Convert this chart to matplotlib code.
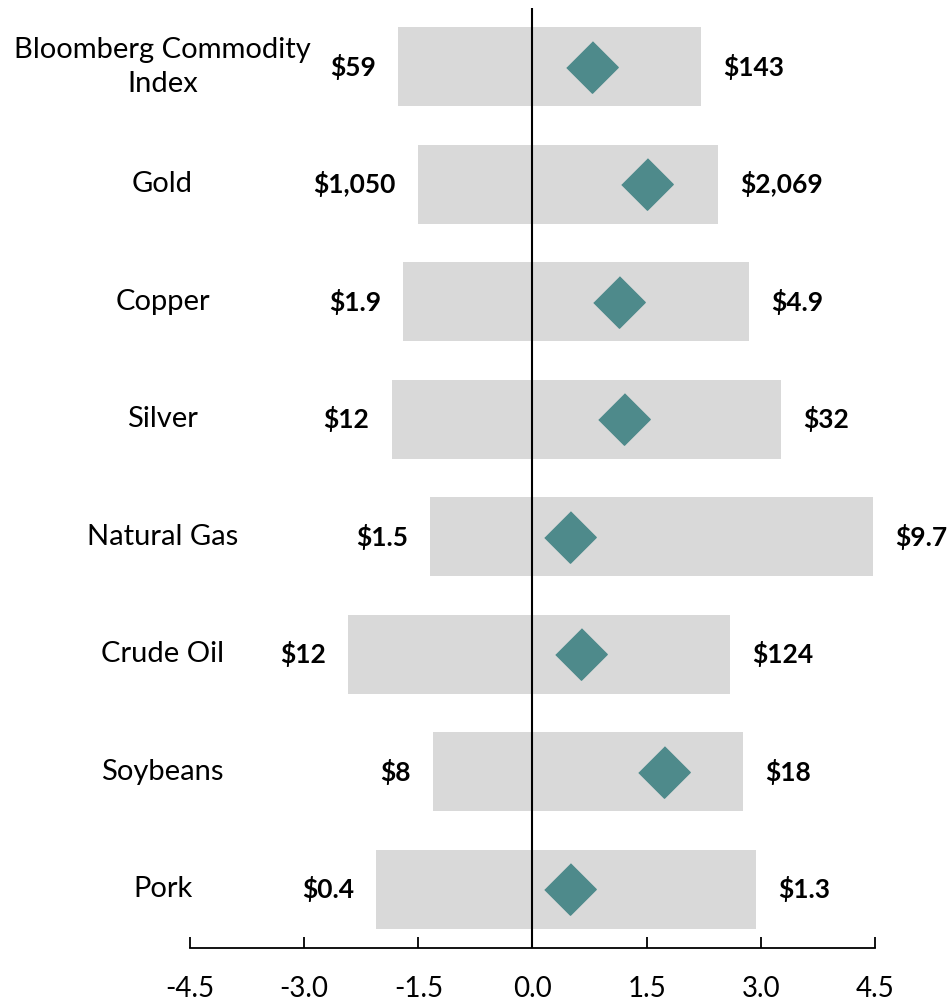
import matplotlib.pyplot as plt

# commodity ranges (z-score style axis)
categories = ["Bloomberg Commodity\nIndex", "Gold", "Copper", "Silver",
              "Natural Gas", "Crude Oil", "Soybeans", "Pork"]
low = [-1.77, -1.51, -1.70, -1.85, -1.34, -2.42, -1.31, -2.05]
high = [2.21, 2.44, 2.84, 3.27, 4.47, 2.59, 2.77, 2.94]
current = [0.78, 1.51, 1.14, 1.20, 0.49, 0.64, 1.73, 0.49]
low_labels = ["$59", "$1,050", "$1.9", "$12", "$1.5", "$12", "$8", "$0.4"]
high_labels = ["$143", "$2,069", "$4.9", "$32", "$9.7", "$124", "$18", "$1.3"]
xticks = [-4.5, -3.0, -1.5, 0.0, 1.5, 3.0, 4.5]

plt.rcParams['font.family'] = ['Lato', 'DejaVu Sans']

fig = plt.figure(figsize=(9.49, 10.05), dpi=100)
ax = fig.add_axes([0.2002, 0.0567, 0.7218, 0.9353])

y = list(range(len(categories)))
widths = [h - l for l, h in zip(low, high)]
ax.barh(y, widths, left=low, height=0.67, color="#D9D9D9", zorder=1)
ax.axvline(0, color="black", lw=1.5, zorder=2)

diamond = [(0, 1), (1, 0), (0, -1), (-1, 0)]
ax.plot(current, y, linestyle="none", marker=diamond, markersize=37,
        color="#4E8A8B", zorder=3)

for i in y:
    ax.annotate(low_labels[i], (low[i], i), xytext=(-16, 0), textcoords="offset points",
                ha="right", va="center", fontsize=19, fontweight="bold")
    ax.annotate(high_labels[i], (high[i], i), xytext=(16, 0), textcoords="offset points",
                ha="left", va="center", fontsize=19, fontweight="bold", annotation_clip=False)
    ax.text(-4.86, i, categories[i], ha="center", va="center", fontsize=21,
            linespacing=1.4, clip_on=False)

ax.set_xlim(-4.5, 4.5)
ax.set_ylim(7.5, -0.5)
ax.set_xticks(xticks)
ax.set_xticklabels(["%.1f" % t for t in xticks], fontsize=20)
ax.tick_params(axis="x", direction="in", length=8, width=1.3, pad=20)
ax.set_yticks([])
for s in ["top", "right", "left"]:
    ax.spines[s].set_visible(False)
ax.spines["bottom"].set_linewidth(1.3)

plt.savefig("out.png")
